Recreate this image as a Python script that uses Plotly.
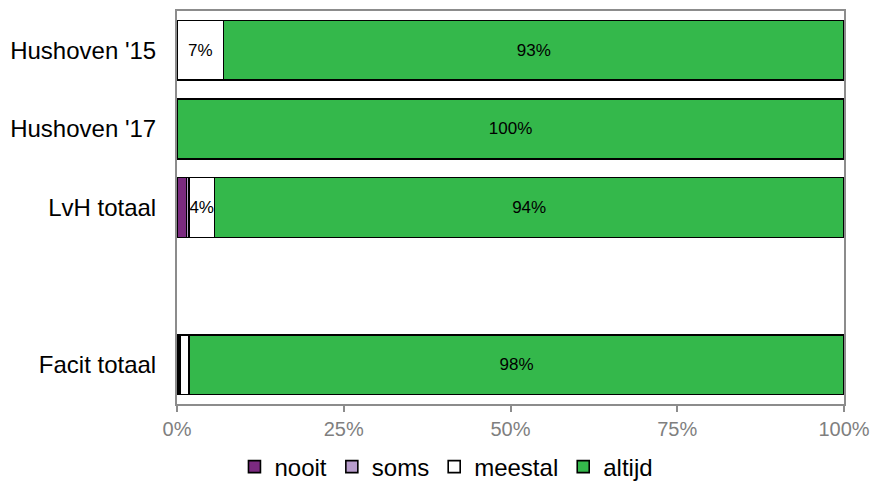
import plotly.graph_objects as go

categories = ["Hushoven '15", "Hushoven '17", "LvH totaal", " ", "Facit totaal"]
nooit = [0, 0, 1.4, None, 0.3]
soms = [0, 0, 0.4, None, 0.2]
meestal = [7, 0, 3.8, None, 1.3]
altijd = [93, 100, 94.4, None, 98.2]

nooit_labels = ["", "", "", "", ""]
soms_labels = ["", "", "", "", ""]
meestal_labels = ["7%", "", "4%", "", ""]
altijd_labels = ["93%", "100%", "94%", "", "98%"]

x_ticks = [0, 25, 50, 75, 100]
x_tick_labels = ["0%", "25%", "50%", "75%", "100%"]

FONT = "Liberation Sans, Arial, sans-serif"

series = [
    ("nooit", nooit, nooit_labels, "#7B2A80"),
    ("soms", soms, soms_labels, "#B89DCC"),
    ("meestal", meestal, meestal_labels, "#FFFFFF"),
    ("altijd", altijd, altijd_labels, "#34B84B"),
]

fig = go.Figure()
for name, vals, labels, color in series:
    fig.add_trace(go.Bar(
        name=name,
        y=categories,
        x=vals,
        orientation="h",
        text=labels,
        textposition="inside",
        insidetextanchor="middle",
        textangle=0,
        constraintext="none",
        textfont=dict(family=FONT, size=17, color="black"),
        insidetextfont=dict(family=FONT, size=17, color="black"),
        outsidetextfont=dict(family=FONT, size=17, color="black"),
        marker=dict(color=color, line=dict(color="black", width=1.6)),
        width=0.76,
        hoverinfo="skip",
    ))

fig.update_layout(
    barmode="stack",
    width=872,
    height=489,
    margin=dict(l=177, r=28, t=11, b=85, autoexpand=False),
    plot_bgcolor="white",
    paper_bgcolor="white",
    font=dict(family=FONT, color="black"),
    showlegend=True,
    legend=dict(
        orientation="h",
        xref="container", yref="container",
        x=0.512, y=0.045,
        xanchor="center", yanchor="middle",
        font=dict(family=FONT, size=24, color="black"),
        itemwidth=30,
        traceorder="normal",
    ),
)

fig.update_xaxes(
    range=[0, 100],
    tickvals=x_ticks,
    ticktext=x_tick_labels,
    showgrid=False,
    zeroline=False,
    showline=True,
    linecolor="#8C8C8C",
    linewidth=2,
    mirror=True,
    ticks="outside",
    ticklen=6,
    tickcolor="#8C8C8C",
    tickwidth=2,
    automargin=False,
    tickfont=dict(family=FONT, size=20, color="#7F7F7F"),
)
fig.update_yaxes(
    type="category",
    categoryorder="array",
    categoryarray=categories,
    autorange="reversed",
    showgrid=False,
    zeroline=False,
    showline=True,
    linecolor="#8C8C8C",
    linewidth=2,
    mirror=True,
    ticks="",
    ticklabelstandoff=14,
    automargin=False,
    tickfont=dict(family=FONT, size=24, color="black"),
)

fig.write_html(
    "out.html",
    config={"displayModeBar": False, "staticPlot": True},
    post_script="document.body.style.margin='0';document.body.style.padding='0';",
)
